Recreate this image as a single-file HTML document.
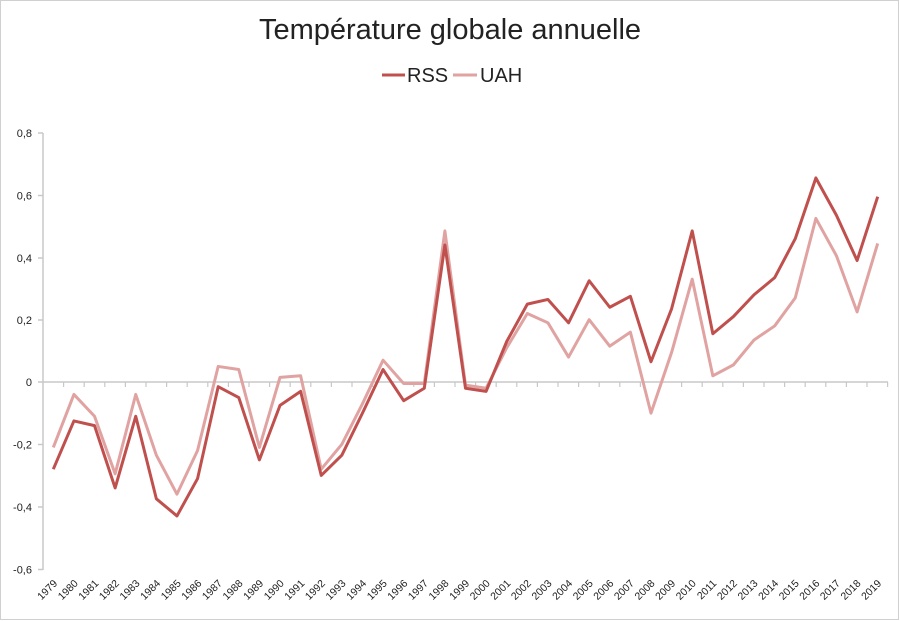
<!DOCTYPE html>
<html><head><meta charset="utf-8"><style>
html,body{margin:0;padding:0;background:#fff}
svg{display:block}
text{font-family:"Liberation Sans",sans-serif;fill:#222}
</style></head><body>
<svg width="900" height="621" viewBox="0 0 900 621">
<rect x="0.5" y="0.5" width="898" height="619" fill="#fff" stroke="#d0d0d0"/>
<text x="450" y="39" font-size="29" text-anchor="middle">Température globale annuelle</text>
<line x1="382" y1="75" x2="405" y2="75" stroke="#c0504d" stroke-width="3"/>
<text x="407" y="82" font-size="20">RSS</text>
<line x1="453" y1="75" x2="477" y2="75" stroke="#e0a3a2" stroke-width="3"/>
<text x="480" y="82" font-size="20">UAH</text>
<g stroke="#c8c8c8" stroke-width="1.5">
<line x1="43" y1="133" x2="43" y2="570"/>
<line x1="38" y1="133" x2="43" y2="133"/><line x1="38" y1="195.5" x2="43" y2="195.5"/>
<line x1="38" y1="258" x2="43" y2="258"/><line x1="38" y1="320" x2="43" y2="320"/>
<line x1="38" y1="382" x2="43" y2="382"/><line x1="38" y1="444.5" x2="43" y2="444.5"/>
<line x1="38" y1="507" x2="43" y2="507"/><line x1="38" y1="569.5" x2="43" y2="569.5"/>
<line x1="43" y1="382" x2="888" y2="382"/>
</g>
<g font-size="11" text-anchor="end">
<text x="32" y="137">0,8</text><text x="32" y="199.5">0,6</text><text x="32" y="262">0,4</text>
<text x="32" y="324">0,2</text><text x="32" y="386">0</text><text x="32" y="448.5">-0,2</text>
<text x="32" y="511">-0,4</text><text x="32" y="573.5">-0,6</text>
</g>
<g transform="translate(43,382)" stroke="#c8c8c8" stroke-width="1.2">
<path d="M20.6,0v5M41.2,0v5M61.8,0v5M82.4,0v5M103,0v5M123.6,0v5M144.2,0v5M164.8,0v5M185.4,0v5M206,0v5M226.6,0v5M247.2,0v5M267.8,0v5M288.4,0v5M309,0v5M329.6,0v5M350.2,0v5M370.8,0v5M391.4,0v5M412,0v5M432.6,0v5M453.2,0v5M473.8,0v5M494.4,0v5M515,0v5M535.6,0v5M556.2,0v5M576.8,0v5M597.4,0v5M618,0v5M638.6,0v5M659.2,0v5M679.8,0v5M700.4,0v5M721,0v5M741.6,0v5M762.2,0v5M782.8,0v5M803.4,0v5M824,0v5M844.6,0v5"/>
</g>
<g transform="translate(53.3,382) scale(20.61,-311.5)" fill="none" stroke-linejoin="round">
<polyline vector-effect="non-scaling-stroke" stroke="#e0a3a2" stroke-width="3" points="0,-0.21 1,-0.04 2,-0.11 3,-0.295 4,-0.04 5,-0.235 6,-0.36 7,-0.22 8,0.05 9,0.04 10,-0.21 11,0.015 12,0.02 13,-0.28 14,-0.2 15,-0.07 16,0.07 17,-0.005 18,-0.005 19,0.485 20,-0.01 21,-0.02 22,0.11 23,0.22 24,0.19 25,0.08 26,0.2 27,0.115 28,0.16 29,-0.1 30,0.095 31,0.33 32,0.02 33,0.055 34,0.135 35,0.18 36,0.27 37,0.525 38,0.405 39,0.225 40,0.445"/>
<polyline vector-effect="non-scaling-stroke" stroke="#c0504d" stroke-width="3" points="0,-0.28 1,-0.125 2,-0.14 3,-0.34 4,-0.11 5,-0.375 6,-0.43 7,-0.31 8,-0.015 9,-0.05 10,-0.25 11,-0.075 12,-0.03 13,-0.3 14,-0.235 15,-0.1 16,0.04 17,-0.06 18,-0.02 19,0.44 20,-0.02 21,-0.03 22,0.13 23,0.25 24,0.265 25,0.19 26,0.325 27,0.24 28,0.275 29,0.065 30,0.235 31,0.485 32,0.155 33,0.21 34,0.28 35,0.335 36,0.46 37,0.655 38,0.535 39,0.39 40,0.595"/>
</g>
<g font-size="10.5" text-anchor="end">
<text transform="translate(58,584) rotate(-45)">1979</text>
<text transform="translate(78.6,584) rotate(-45)">1980</text>
<text transform="translate(99.2,584) rotate(-45)">1981</text>
<text transform="translate(119.8,584) rotate(-45)">1982</text>
<text transform="translate(140.4,584) rotate(-45)">1983</text>
<text transform="translate(161,584) rotate(-45)">1984</text>
<text transform="translate(181.6,584) rotate(-45)">1985</text>
<text transform="translate(202.2,584) rotate(-45)">1986</text>
<text transform="translate(222.8,584) rotate(-45)">1987</text>
<text transform="translate(243.4,584) rotate(-45)">1988</text>
<text transform="translate(264,584) rotate(-45)">1989</text>
<text transform="translate(284.6,584) rotate(-45)">1990</text>
<text transform="translate(305.2,584) rotate(-45)">1991</text>
<text transform="translate(325.8,584) rotate(-45)">1992</text>
<text transform="translate(346.4,584) rotate(-45)">1993</text>
<text transform="translate(367,584) rotate(-45)">1994</text>
<text transform="translate(387.6,584) rotate(-45)">1995</text>
<text transform="translate(408.2,584) rotate(-45)">1996</text>
<text transform="translate(428.8,584) rotate(-45)">1997</text>
<text transform="translate(449.4,584) rotate(-45)">1998</text>
<text transform="translate(470,584) rotate(-45)">1999</text>
<text transform="translate(490.6,584) rotate(-45)">2000</text>
<text transform="translate(511.2,584) rotate(-45)">2001</text>
<text transform="translate(531.8,584) rotate(-45)">2002</text>
<text transform="translate(552.4,584) rotate(-45)">2003</text>
<text transform="translate(573,584) rotate(-45)">2004</text>
<text transform="translate(593.6,584) rotate(-45)">2005</text>
<text transform="translate(614.2,584) rotate(-45)">2006</text>
<text transform="translate(634.8,584) rotate(-45)">2007</text>
<text transform="translate(655.4,584) rotate(-45)">2008</text>
<text transform="translate(676,584) rotate(-45)">2009</text>
<text transform="translate(696.6,584) rotate(-45)">2010</text>
<text transform="translate(717.2,584) rotate(-45)">2011</text>
<text transform="translate(737.8,584) rotate(-45)">2012</text>
<text transform="translate(758.4,584) rotate(-45)">2013</text>
<text transform="translate(779,584) rotate(-45)">2014</text>
<text transform="translate(799.6,584) rotate(-45)">2015</text>
<text transform="translate(820.2,584) rotate(-45)">2016</text>
<text transform="translate(840.8,584) rotate(-45)">2017</text>
<text transform="translate(861.4,584) rotate(-45)">2018</text>
<text transform="translate(882,584) rotate(-45)">2019</text>
</g>
</svg>
</body></html>
